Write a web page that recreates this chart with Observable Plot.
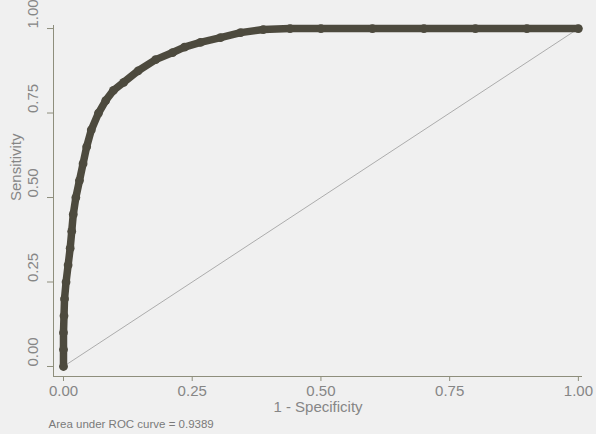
<!DOCTYPE html>
<html>
<head>
<meta charset="utf-8">
<script src="https://cdn.jsdelivr.net/npm/d3@7"></script>
<script src="https://cdn.jsdelivr.net/npm/@observablehq/plot@0.6"></script>
<style>
  html, body { margin: 0; padding: 0; background: #f0f0f0; }
  #chart svg { display: block; background: #f0f0f0; }
</style>
</head>
<body>
<div id="chart"></div>
<script>
// ROC curve
const fpr = [0, 0, 0, 0.001, 0.002, 0.005, 0.009, 0.013, 0.016, 0.019, 0.024, 0.031, 0.038, 0.045, 0.054, 0.068, 0.082, 0.097, 0.117, 0.145, 0.179, 0.212, 0.235, 0.266, 0.305, 0.344, 0.388, 0.44, 0.5, 0.6, 0.7, 0.8, 0.9, 1.0];
const tpr = [0, 0.05, 0.10, 0.15, 0.20, 0.25, 0.30, 0.35, 0.40, 0.45, 0.50, 0.55, 0.60, 0.65, 0.70, 0.75, 0.787, 0.817, 0.841, 0.875, 0.908, 0.929, 0.945, 0.959, 0.973, 0.988, 0.997, 1, 1, 1, 1, 1, 1, 1];
const refX = [0, 1];
const refY = [0, 1];
const xTicks = [0, 0.25, 0.5, 0.75, 1];
const yTicks = [0, 0.25, 0.5, 0.75, 1];
const xDomain = [-0.0194, 1.008];
const yDomain = [-0.0296, 1.009];
const xLabel = "1 - Specificity";
const yLabel = "Sensitivity";
const caption = "Area under ROC curve = 0.9389";

const roc = fpr.map((f, i) => ({fpr: f, tpr: tpr[i]}));
const diag = refX.map((x, i) => ({x, y: refY[i]}));

const curveColor = "#4d4a3e";
const axisColor = "#8e8e7c";
const textColor = "#868686";
const font = "'Liberation Sans', Arial, sans-serif";
const fmt = d3.format(".2f");

const chart = Plot.plot({
  width: 596,
  height: 434,
  marginLeft: 53,
  marginRight: 14,
  marginTop: 25,
  marginBottom: 58,
  style: {background: "#f0f0f0", fontFamily: font},
  x: {domain: xDomain, axis: null},
  y: {domain: yDomain, axis: null},
  marks: [
    Plot.line(diag, {x: "x", y: "y", stroke: "#9a9a9a", strokeWidth: 0.8}),
    Plot.line(roc, {x: "fpr", y: "tpr", stroke: curveColor, strokeWidth: 7.5, strokeLinejoin: "round", strokeLinecap: "round"}),
    Plot.dot(roc, {x: "fpr", y: "tpr", r: 4.4, fill: curveColor, stroke: "none"}),
    Plot.ruleX([xDomain[0]], {stroke: axisColor, strokeWidth: 1}),
    Plot.ruleY([yDomain[0]], {stroke: axisColor, strokeWidth: 1}),
    Plot.axisX(xTicks, {tickSize: 5, stroke: axisColor, tickFormat: () => "", anchor: "bottom"}),
    Plot.axisY(yTicks, {tickSize: 6, stroke: axisColor, tickFormat: () => "", anchor: "left"}),
    Plot.text(xTicks, {x: d => d, text: d => fmt(d), frameAnchor: "bottom", dy: 19, fill: textColor, fontSize: 15, fontFamily: font}),
    Plot.text(yTicks, {y: d => d, text: d => fmt(d), frameAnchor: "left", dx: -20, rotate: -90, fill: textColor, fontSize: 15, fontFamily: font}),
    Plot.text([xLabel], {text: d => d, frameAnchor: "bottom", dy: 35, fill: textColor, fontSize: 15, fontFamily: font}),
    Plot.text([yLabel], {text: d => d, frameAnchor: "left", dx: -37, rotate: -90, fill: textColor, fontSize: 15, fontFamily: font}),
    Plot.text([caption], {text: d => d, frameAnchor: "bottom-left", dx: -5, dy: 51, textAnchor: "start", fill: "#7a7a7a", fontSize: 11.5, fontFamily: font})
  ]
});
document.getElementById("chart").appendChild(chart);
</script>
</body>
</html>
